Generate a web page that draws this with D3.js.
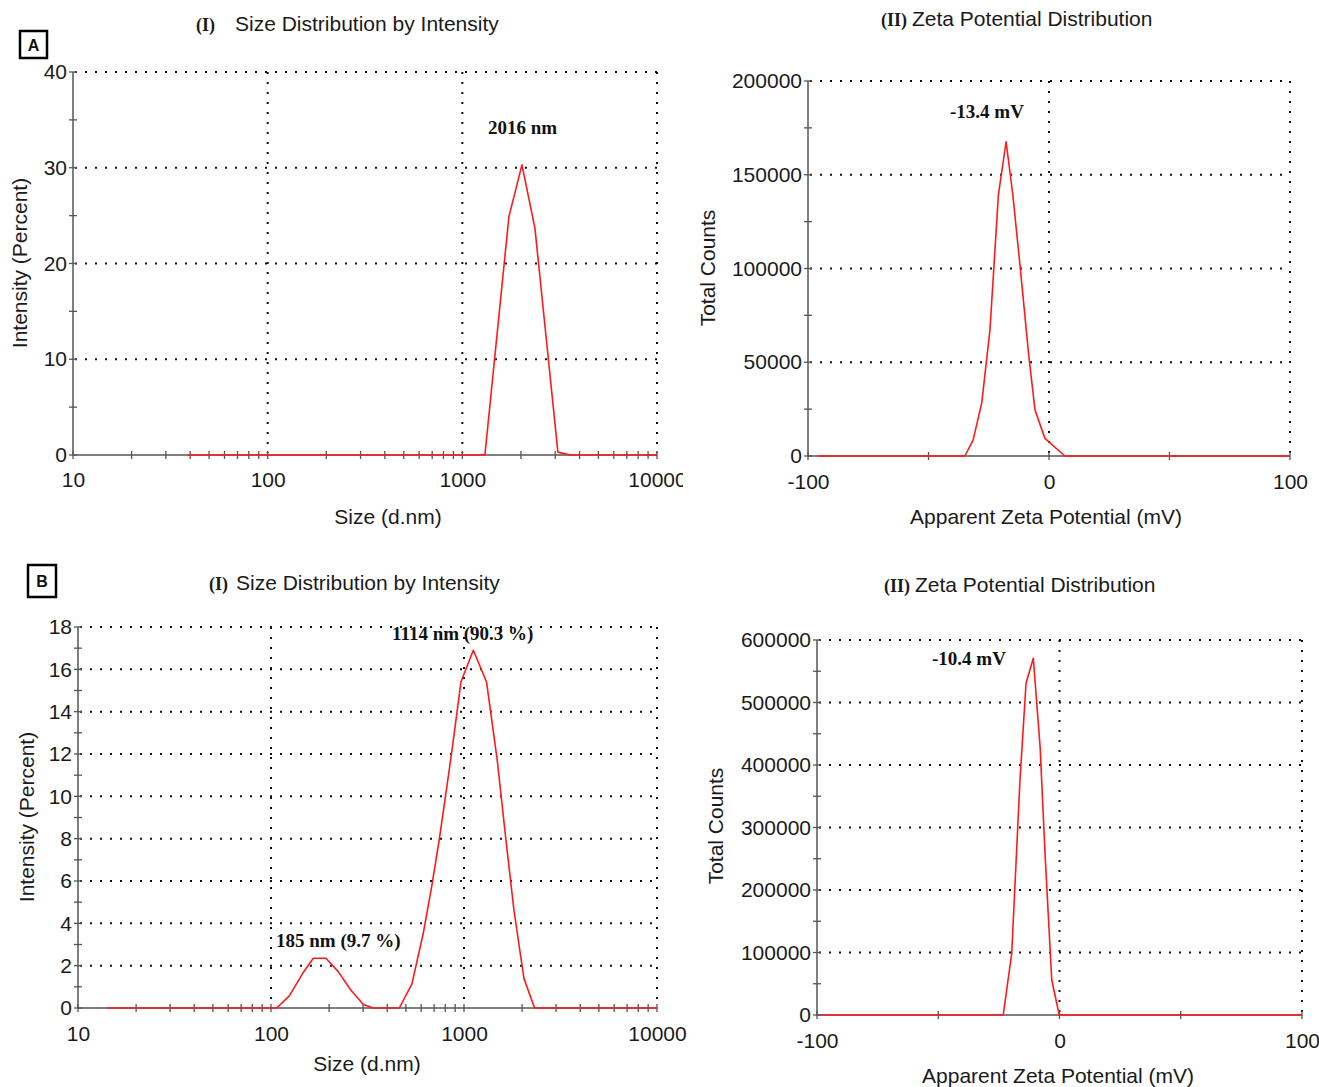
<!DOCTYPE html>
<html><head><meta charset="utf-8">
<script src="https://cdn.jsdelivr.net/npm/d3@7"></script>
<style>body{margin:0;background:#fff}</style></head>
<body>
<svg id="c" width="1319" height="1087"></svg>
<script>
// ---------- DATA ----------
// A (I) size distribution by intensity
const sizeA_nm  = [39, 1306, 1735, 2024, 2360, 3097, 3570, 10000];
const sizeA_pct = [0,  0,    24.9, 30.3, 23.7, 0.3,  0,    0];
// A (II) zeta potential distribution
const zetaA_mV     = [-96, -34.9, -31.5, -27.9, -24.5, -21.0, -17.8, -15.0, -11.7, -8.5, -5.8, -1.7, 6.6, 100];
const zetaA_counts = [0,   0,     8500,  28300, 67200, 139200, 167600, 139200, 97400, 54800, 24500, 9400, 0, 0];
// B (I) size distribution by intensity
const sizeB_nm  = [14.1, 107, 124.5, 146, 165.6, 192.6, 223, 259, 301, 339, 462, 537, 615, 680, 744, 806, 873, 964, 1117, 1309, 1487, 1642, 1814, 2044, 2321, 10000];
const sizeB_pct = [0,    0,   0.57,  1.64, 2.35, 2.35,  1.72, 0.85, 0.17, 0, 0,   1.13, 3.53, 5.73, 7.94, 10.14, 12.4, 15.4, 16.9, 15.4, 11.7, 8.1, 4.63, 1.4, 0, 0];
// B (II) zeta potential distribution
const zetaB_mV     = [-98.5, -23.2, -19.7, -16.3, -13.8, -10.8, -8.0, -5.9, -3.2, -0.1, 100];
const zetaB_counts = [0,     0,     98700, 376000, 530700, 570700, 429300, 253300, 56000, 0, 0];

// tick labels
const sizeTicks = [10, 100, 1000, 10000];
const zetaTicks = [-100, 0, 100];
const yTicksA1 = [0, 10, 20, 30, 40];
const yTicksB1 = [0, 2, 4, 6, 8, 10, 12, 14, 16, 18];
const yTicksA2 = [0, 50000, 100000, 150000, 200000];
const yTicksB2 = [0, 100000, 200000, 300000, 400000, 500000, 600000];

// annotations
const annA1 = ["2016 nm"];
const annA2 = ["-13.4 mV"];
const annB1 = ["1114 nm (90.3 %)", "185 nm (9.7 %)"];
const annB2 = ["-10.4 mV"];

// ---------- DRAW ----------
const SANS = "'Liberation Sans', Arial, sans-serif";
const SERIF = "'Liberation Serif', 'Times New Roman', serif";
const FS = 21;
const svg = d3.select("#c");
const defs = svg.append("defs");
defs.append("clipPath").attr("id","clipA").append("rect").attr("x",0).attr("y",0).attr("width",683).attr("height",1087);
const fmt = v => String(v);

function panel(o) {
  const g = svg.append("g");
  const x = o.log ? d3.scaleLog().domain(o.xDomain).range([o.L, o.R])
                  : d3.scaleLinear().domain(o.xDomain).range([o.L, o.R]);
  const y = d3.scaleLinear().domain(o.yDomain).range([o.B, o.T]);

  // dotted grid
  const dot = {stroke:"#111", "stroke-width":2, "stroke-dasharray":"2,8"};
  o.yGrid.forEach(v => {
    const l = g.append("line").attr("x1", o.L+2).attr("x2", o.R).attr("y1", y(v)).attr("y2", y(v));
    Object.entries(dot).forEach(([k,val]) => l.attr(k,val));
  });
  o.xGrid.forEach(v => {
    const l = g.append("line").attr("x1", x(v)).attr("x2", x(v)).attr("y1", o.T).attr("y2", o.B-2);
    Object.entries(dot).forEach(([k,val]) => l.attr(k,val));
  });

  // axis lines
  const ax = "#555";
  g.append("line").attr("x1", o.L).attr("x2", o.L).attr("y1", o.T).attr("y2", o.B).attr("stroke", ax).attr("stroke-width", 1.5);
  g.append("line").attr("x1", o.L).attr("x2", o.R).attr("y1", o.B).attr("y2", o.B).attr("stroke", ax).attr("stroke-width", 1.5);

  // y ticks (crossing)
  o.yTickAll.forEach(v => {
    g.append("line").attr("x1", o.L-4).attr("x2", o.L+4).attr("y1", y(v)).attr("y2", y(v)).attr("stroke", ax).attr("stroke-width", 1.3);
  });
  // x ticks (crossing)
  o.xTickAll.forEach(v => {
    g.append("line").attr("x1", x(v)).attr("x2", x(v)).attr("y1", o.B-4).attr("y2", o.B+4).attr("stroke", ax).attr("stroke-width", 1.3);
  });

  // y tick labels via d3 axis
  const yAxis = d3.axisLeft(y).tickValues(o.yTicks).tickSize(0).tickPadding(6).tickFormat(fmt);
  const ya = g.append("g").attr("transform", `translate(${o.L},0)`).call(yAxis);
  ya.select(".domain").remove();
  ya.selectAll("text").attr("font-family", SANS).attr("font-size", FS).attr("fill", "#1a1a1a");

  // x tick labels
  const xAxis = d3.axisBottom(x).tickValues(o.xTicks).tickSize(0).tickPadding(o.xPad).tickFormat(fmt);
  const xa = g.append("g").attr("transform", `translate(0,${o.B})`).call(xAxis);
  xa.select(".domain").remove();
  xa.selectAll("text").attr("font-family", SANS).attr("font-size", FS).attr("fill", "#1a1a1a");
  if (o.clip) xa.attr("clip-path", "url(#clipA)");

  // data line
  const line = d3.line().x((d,i) => x(o.xs[i])).y((d,i) => y(o.ys[i]));
  g.append("path").attr("d", line(o.xs)).attr("fill", "none").attr("stroke", "#ff1a1a").attr("stroke-width", 1.6).attr("stroke-linejoin","round");

  // axis titles
  g.append("text").attr("x", o.xLabelX).attr("y", o.xLabelY).attr("text-anchor", "middle")
    .attr("font-family", SANS).attr("font-size", FS).attr("fill", "#1a1a1a").text(o.xLabel);
  g.append("text").attr("transform", `translate(${o.yLabelX},${o.yLabelY}) rotate(-90)`).attr("text-anchor", "middle")
    .attr("font-family", SANS).attr("font-size", FS).attr("fill", "#1a1a1a").text(o.yLabel);

  // title
  const t = g.append("text").attr("x", o.titleX).attr("y", o.titleY).attr("font-size", FS).attr("fill", "#1a1a1a");
  t.append("tspan").attr("font-family", SERIF).attr("font-weight", "bold").attr("font-size", 18).text(o.titleRoman);
  t.append("tspan").attr("font-family", SANS).attr("dx", o.titleGap).text(o.title);

  // annotations
  o.ann.forEach(a => {
    g.append("text").attr("x", a.x).attr("y", a.y).attr("font-family", SERIF).attr("font-weight", "bold")
      .attr("font-size", 19).attr("fill", "#111").text(a.t);
  });
  return g;
}

function minorLog(lo, hi) {
  const out = [];
  for (let d = lo; d < hi; d *= 10) for (let k = 1; k < 10; k++) out.push(d*k);
  out.push(hi);
  return out;
}
function range(a, b, s) { const r = []; for (let v = a; v <= b + 1e-9; v += s) r.push(v); return r; }

// A (I)
panel({L:73, R:657, T:72, B:455, log:true, xDomain:[10,10000], yDomain:[0,40],
  yGrid:[10,20,30,40], xGrid:[100,1000,10000],
  yTicks:yTicksA1, yTickAll:range(0,40,5), xTicks:sizeTicks, xTickAll:minorLog(10,10000), xPad:17, clip:true,
  xs:sizeA_nm, ys:sizeA_pct,
  xLabel:"Size (d.nm)", xLabelX:388, xLabelY:524,
  yLabel:"Intensity (Percent)", yLabelX:27, yLabelY:263,
  titleRoman:"(I)", title:"Size Distribution by Intensity", titleX:196, titleY:31, titleGap:20,
  ann:[{t:annA1[0], x:488, y:134}]});

// A (II)
panel({L:808, R:1290, T:81, B:456, log:false, xDomain:[-100,100], yDomain:[0,200000],
  yGrid:[50000,100000,150000,200000], xGrid:[0,100],
  yTicks:yTicksA2, yTickAll:range(0,200000,25000), xTicks:zetaTicks, xTickAll:[-100,-50,0,50,100], xPad:18,
  xs:zetaA_mV, ys:zetaA_counts,
  xLabel:"Apparent Zeta Potential (mV)", xLabelX:1046, xLabelY:524,
  yLabel:"Total Counts", yLabelX:715, yLabelY:268,
  titleRoman:"(II)", title:"Zeta Potential Distribution", titleX:881, titleY:26, titleGap:5,
  ann:[{t:annA2[0], x:950, y:118}]});

// B (I)
panel({L:78, R:657, T:627, B:1008, log:true, xDomain:[10,10000], yDomain:[0,18],
  yGrid:range(2,18,2), xGrid:[100,1000,10000],
  yTicks:yTicksB1, yTickAll:range(0,18,1), xTicks:sizeTicks, xTickAll:minorLog(10,10000), xPad:18,
  xs:sizeB_nm, ys:sizeB_pct,
  xLabel:"Size (d.nm)", xLabelX:367, xLabelY:1071,
  yLabel:"Intensity (Percent)", yLabelX:34, yLabelY:817,
  titleRoman:"(I)", title:"Size Distribution by Intensity", titleX:209, titleY:590, titleGap:8,
  ann:[{t:annB1[0], x:392, y:640}, {t:annB1[1], x:276, y:947}]});

// B (II)
panel({L:817, R:1302, T:640, B:1015, log:false, xDomain:[-100,100], yDomain:[0,600000],
  yGrid:range(100000,600000,100000), xGrid:[0,100],
  yTicks:yTicksB2, yTickAll:range(0,600000,50000), xTicks:zetaTicks, xTickAll:[-100,-50,0,50,100], xPad:18,
  xs:zetaB_mV, ys:zetaB_counts,
  xLabel:"Apparent Zeta Potential (mV)", xLabelX:1058, xLabelY:1083,
  yLabel:"Total Counts", yLabelX:723, yLabelY:826,
  titleRoman:"(II)", title:"Zeta Potential Distribution", titleX:884, titleY:592, titleGap:5,
  ann:[{t:annB2[0], x:932, y:665}]});

// panel letter boxes
[{t:"A", x:20, y:31, w:27, h:27}, {t:"B", x:28, y:565, w:28, h:32}].forEach(b => {
  svg.append("rect").attr("x", b.x).attr("y", b.y).attr("width", b.w).attr("height", b.h)
    .attr("fill", "#fff").attr("stroke", "#000").attr("stroke-width", 2.5);
  svg.append("text").attr("x", b.x + b.w/2).attr("y", b.y + b.h/2 + 6).attr("text-anchor", "middle")
    .attr("font-family", SANS).attr("font-weight", "bold").attr("font-size", 16).attr("fill", "#111").text(b.t);
});
</script>
</body></html>
